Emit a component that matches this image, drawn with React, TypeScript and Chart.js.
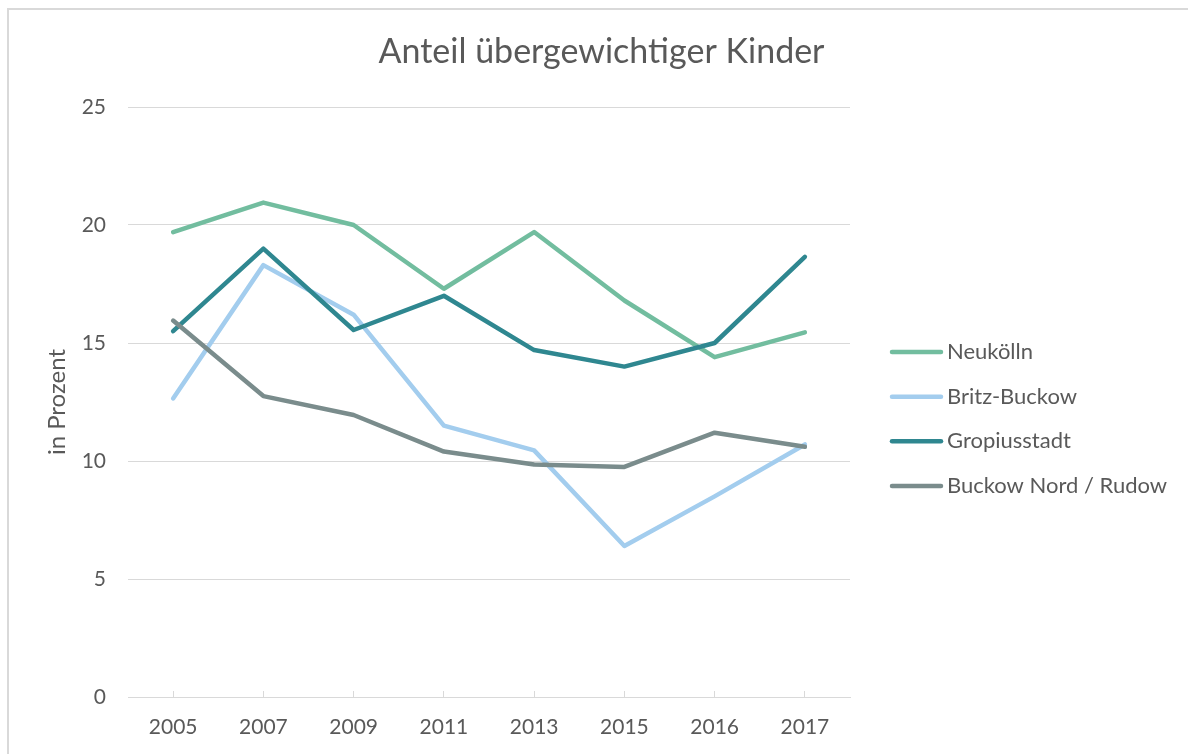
import React, { useEffect, useRef } from "react";
import { Chart, registerables } from "chart.js";

Chart.register(...registerables);

const years = ["2005", "2007", "2009", "2011", "2013", "2015", "2016", "2017"];
const neukoelln = [19.7, 20.95, 20.0, 17.3, 19.7, 16.8, 14.4, 15.45];
const britzBuckow = [12.65, 18.3, 16.2, 11.5, 10.45, 6.4, 8.5, 10.7];
const gropiusstadt = [15.5, 19.0, 15.55, 17.0, 14.7, 14.0, 15.0, 18.65];
const buckowNordRudow = [15.95, 12.75, 11.95, 10.4, 9.85, 9.75, 11.2, 10.6];

const seriesNames = ["Neukölln", "Britz-Buckow", "Gropiusstadt", "Buckow Nord / Rudow"];
const seriesColors = ["#72bd9f", "#a3cdee", "#2f8790", "#7a8c8c"];
const seriesValues = [neukoelln, britzBuckow, gropiusstadt, buckowNordRudow];

const FONT = "Lato, 'Noto Sans', sans-serif";
const TEXT = "#595959";
const GRID = "#d9d9d9";

const legendPlugin = {
  id: "sideLegend",
  afterDraw(chart: any) {
    const { ctx, chartArea } = chart;
    const x0 = chartArea.right + 40;
    const gap = 44.7;
    const cy = (chartArea.top + chartArea.bottom) / 2 + 17;
    const n = seriesNames.length;
    ctx.save();
    ctx.font = `22px ${FONT}`;
    ctx.textBaseline = "middle";
    ctx.textAlign = "left";
    ctx.lineCap = "round";
    ctx.lineWidth = 4.5;
    seriesNames.forEach((name, i) => {
      const y = cy + (i - (n - 1) / 2) * gap;
      ctx.strokeStyle = seriesColors[i];
      ctx.beginPath();
      ctx.moveTo(x0 + 2, y);
      ctx.lineTo(x0 + 51, y);
      ctx.stroke();
      ctx.fillStyle = TEXT;
      ctx.fillText(name, x0 + 57, y);
    });
    ctx.restore();
  },
};

export default function App() {
  const ref = useRef<HTMLCanvasElement | null>(null);

  useEffect(() => {
    if (!ref.current) return;
    const chart = new Chart(ref.current, {
      type: "line",
      data: {
        labels: years,
        datasets: seriesValues.map((vals, i) => ({
          label: seriesNames[i],
          data: vals,
          borderColor: seriesColors[i],
          backgroundColor: seriesColors[i],
          borderWidth: 4.5,
          pointRadius: 0,
          tension: 0,
          borderCapStyle: "round" as const,
          borderJoinStyle: "round" as const,
          order: seriesValues.length - i,
        })),
      },
      plugins: [legendPlugin],
      options: {
        animation: false,
        responsive: false,
        maintainAspectRatio: false,
        layout: { padding: { top: 10, left: 30, right: 15, bottom: 0 } },
        plugins: {
          title: {
            display: true,
            text: "Anteil übergewichtiger Kinder",
            color: TEXT,
            font: { family: FONT, size: 34, weight: "normal" },
            padding: { top: 22, bottom: 34.2 },
          },
          legend: { display: false },
          tooltip: { enabled: false },
        },
        scales: {
          x: {
            offset: true,
            afterFit: (s: any) => {
              s.height = 57;
            },
            grid: {
              display: true,
              drawOnChartArea: false,
              drawTicks: true,
              tickLength: -6,
              color: GRID,
              offset: false,
            },
            border: { display: true, color: GRID, width: 1 },
            ticks: {
              color: TEXT,
              font: { family: FONT, size: 21 },
              padding: 24,
              maxRotation: 0,
            },
          },
          y: {
            min: 0,
            max: 25,
            afterFit: (s: any) => {
              s.width = 98;
            },
            ticks: {
              stepSize: 5,
              color: TEXT,
              font: { family: FONT, size: 21 },
              padding: 22,
            },
            grid: { color: GRID, lineWidth: 1, drawTicks: false },
            border: { display: false },
            title: {
              display: true,
              text: "in Prozent",
              color: TEXT,
              font: { family: FONT, size: 24 },
              padding: { top: 13, bottom: 0 },
            },
          },
          legendSpace: {
            type: "linear",
            position: "right",
            min: 0,
            max: 1,
            afterFit: (s: any) => {
              s.width = 323;
            },
            ticks: { display: false },
            grid: { display: false },
            border: { display: false },
          },
        },
      },
    });
    return () => chart.destroy();
  }, []);

  return (
    <div style={{ position: "absolute", left: 0, top: 0, width: 1188, height: 754, background: "#fff" }}>
      <div style={{ position: "absolute", left: 7, top: 8, width: 1181, height: 2, background: GRID }} />
      <div style={{ position: "absolute", left: 7, top: 8, width: 2, height: 746, background: GRID }} />
      <canvas ref={ref} width={1188} height={754} style={{ position: "absolute", left: 0, top: 0 }} />
    </div>
  );
}
